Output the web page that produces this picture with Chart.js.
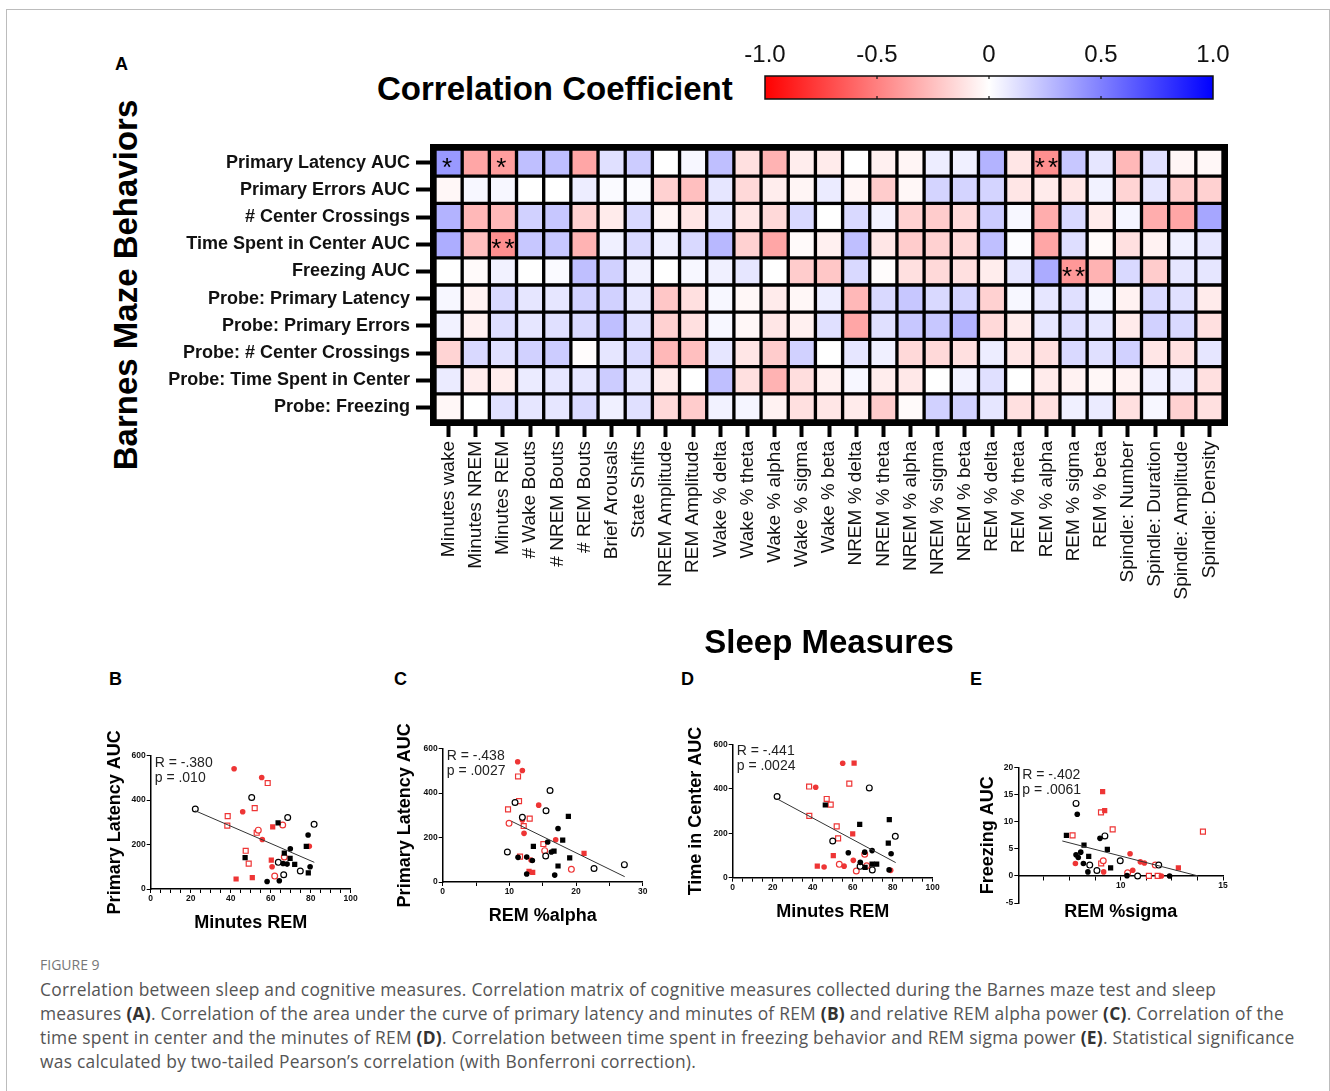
<!DOCTYPE html>
<html>
<head>
<meta charset="utf-8">
<title>Figure 9</title>
<script src="https://cdn.jsdelivr.net/npm/chart.js@4.4.1/dist/chart.umd.min.js"></script>
<style>
  html, body { margin: 0; padding: 0; background: #fff; }
  body { width: 1330px; height: 1091px; position: relative; overflow: hidden; font-family: 'Liberation Sans', Arial, sans-serif; color: #000; }
  .pane { position: absolute; }
  .letter { position: absolute; font-weight: bold; font-size: 18px; line-height: 18px; }
  #frame { position: absolute; left: 6px; top: 9px; width: 1322px; height: 1100px; border: 1px solid #bcbcbc; }
  #ccTitle { position: absolute; left: 377px; top: 73px; font-size: 33px; line-height: 32px; font-weight: bold; white-space: nowrap; }
  #yTitle { position: absolute; left: 125px; top: 285px; transform: translate(-50%, -50%) rotate(-90deg); font-size: 33px; line-height: 33px; font-weight: bold; white-space: nowrap; }
  .caption { position: absolute; left: 40px; font-family: 'Open Sans', sans-serif; white-space: nowrap; }
  #figNo { top: 957px; font-size: 14px; line-height: 16px; color: #777; }
  #capText { top: 977px; font-size: 17.4px; line-height: 24px; letter-spacing: 0.25px; color: #555; }
  #capText b { color: #333; }
</style>
</head>
<body>
<div id="frame"></div>

<div class="letter" style="left:115px;top:55px">A</div>
<div id="ccTitle">Correlation Coefficient</div>
<div id="yTitle">Barnes Maze Behaviors</div>
<div class="pane" style="left:735px;top:35px;width:510px;height:75px"><canvas id="cbar"></canvas></div>
<div class="pane" style="left:90px;top:120px;width:1150px;height:547px"><canvas id="heat"></canvas></div>

<div class="letter" style="left:109px;top:670px">B</div>
<div class="letter" style="left:394px;top:670px">C</div>
<div class="letter" style="left:681px;top:670px">D</div>
<div class="letter" style="left:970px;top:670px">E</div>
<div class="pane" style="left:95px;top:720px;width:270px;height:220px"><canvas id="scB"></canvas></div>
<div class="pane" style="left:385px;top:715px;width:270px;height:220px"><canvas id="scC"></canvas></div>
<div class="pane" style="left:675px;top:710px;width:270px;height:220px"><canvas id="scD"></canvas></div>
<div class="pane" style="left:965px;top:735px;width:270px;height:200px"><canvas id="scE"></canvas></div>

<div class="caption" id="figNo">FIGURE 9</div>
<div class="caption" id="capText">Correlation between sleep and cognitive measures. Correlation matrix of cognitive measures collected during the Barnes maze test and sleep<br>measures <b>(A)</b>. Correlation of the area under the curve of primary latency and minutes of REM <b>(B)</b> and relative REM alpha power <b>(C)</b>. Correlation of the<br>time spent in center and the minutes of REM <b>(D)</b>. Correlation between time spent in freezing behavior and REM sigma power <b>(E)</b>. Statistical significance<br>was calculated by two-tailed Pearson’s correlation (with Bonferroni correction).</div>

<script>
// ---- panel A: correlation matrix ----
const behaviours = ['Primary Latency AUC', 'Primary Errors AUC', '# Center Crossings', 'Time Spent in Center AUC',
  'Freezing AUC', 'Probe: Primary Latency', 'Probe: Primary Errors', 'Probe: # Center Crossings',
  'Probe: Time Spent in Center', 'Probe: Freezing'];

const sleepMeasures = ['Minutes wake', 'Minutes NREM', 'Minutes REM', '# Wake Bouts', '# NREM Bouts', '# REM Bouts',
  'Brief Arousals', 'State Shifts', 'NREM Amplitude', 'REM Amplitude', 'Wake % delta', 'Wake % theta',
  'Wake % alpha', 'Wake % sigma', 'Wake % beta', 'NREM % delta', 'NREM % theta', 'NREM % alpha',
  'NREM % sigma', 'NREM % beta', 'REM % delta', 'REM % theta', 'REM % alpha', 'REM % sigma', 'REM % beta',
  'Spindle: Number', 'Spindle: Duration', 'Spindle: Amplitude', 'Spindle: Density'];

// one row per behaviour, one value per sleep measure
const corrRows = [
  [0.40, -0.35, -0.38, 0.25, 0.25, -0.35, 0.12, 0.20, 0.00, 0.03, 0.25, -0.12, -0.30, -0.07, -0.08, 0.00, -0.06, -0.04, 0.07, 0.06, 0.30, -0.10, -0.438, 0.22, 0.10, -0.28, 0.12, -0.04, -0.03],
  [-0.03, 0.03, 0.03, 0.00, 0.00, 0.07, 0.02, 0.02, -0.18, -0.25, 0.10, -0.15, -0.07, -0.04, 0.08, -0.04, -0.20, -0.03, 0.17, 0.17, 0.17, -0.10, -0.08, -0.10, 0.05, -0.17, 0.10, -0.20, -0.18],
  [0.30, -0.28, -0.28, 0.18, 0.22, -0.18, -0.08, 0.15, -0.04, -0.10, 0.10, -0.10, -0.15, 0.15, 0.00, 0.15, 0.05, -0.18, -0.20, -0.15, 0.20, 0.03, -0.32, 0.15, -0.08, 0.04, -0.32, -0.35, 0.35],
  [0.32, -0.25, -0.441, 0.22, 0.22, -0.30, 0.06, 0.15, 0.06, 0.15, 0.28, -0.18, -0.35, -0.02, -0.06, 0.25, -0.10, -0.20, -0.18, -0.15, 0.25, 0.01, -0.35, 0.13, -0.02, -0.12, -0.05, 0.06, 0.10],
  [0.00, -0.02, 0.05, 0.00, 0.02, 0.25, 0.18, 0.06, 0.00, 0.03, 0.06, 0.10, 0.00, -0.20, -0.22, 0.15, -0.01, -0.12, -0.15, -0.12, -0.07, 0.10, 0.33, -0.402, -0.30, 0.15, -0.20, 0.10, 0.10],
  [0.03, -0.05, 0.15, 0.10, 0.10, 0.18, 0.18, 0.10, -0.22, -0.12, 0.03, -0.03, -0.08, -0.03, 0.07, -0.28, 0.15, 0.22, 0.15, 0.17, -0.18, 0.03, 0.10, 0.12, 0.04, -0.05, 0.15, 0.12, -0.08],
  [0.05, -0.06, 0.13, 0.10, 0.12, 0.15, 0.25, 0.12, -0.18, -0.12, 0.03, -0.03, -0.10, -0.06, 0.12, -0.35, 0.12, 0.22, 0.22, 0.30, -0.15, -0.08, 0.10, 0.13, 0.10, -0.08, 0.18, 0.15, -0.12],
  [-0.17, 0.15, 0.12, 0.18, 0.20, -0.01, 0.10, 0.15, -0.28, -0.25, 0.10, -0.10, -0.20, 0.18, 0.00, 0.10, 0.06, -0.15, -0.15, -0.12, 0.07, -0.10, -0.12, 0.15, 0.12, 0.18, -0.10, -0.12, 0.10],
  [0.08, -0.07, -0.07, 0.08, 0.10, 0.10, 0.20, 0.10, -0.08, 0.00, 0.25, -0.12, -0.30, -0.13, -0.06, 0.03, -0.07, -0.09, 0.00, 0.05, 0.12, 0.00, -0.08, -0.05, -0.03, -0.05, 0.06, 0.08, -0.12],
  [-0.03, 0.00, 0.12, 0.10, 0.10, 0.15, 0.06, 0.12, -0.15, -0.20, 0.05, 0.04, -0.05, -0.12, -0.10, -0.08, -0.20, -0.02, 0.18, 0.18, 0.10, -0.12, -0.12, 0.06, 0.08, -0.12, 0.03, -0.18, -0.12]
];

// [row, column, mark]
const sigMarks = [[0, 0, '*'], [0, 2, '*'], [3, 2, '**'], [0, 22, '**'], [4, 23, '**']];

const cbarTicks = [-1, -0.5, 0, 0.5, 1];

// ---- panels B-E: scatter points [x, y, group] ----
// groups: bc black filled circle, bo black open circle, bs black filled square,
//         rc red filled circle, ro red open circle, rs red filled square, rq red open square
const latencyVsRemMin = [
  [69.8, 181, 'bc'], [78.7, 243, 'bc'], [66.2, 115, 'bc'], [68.2, 112, 'bc'], [79.7, 100, 'bc'], [58.2, 34, 'bc'], [64.3, 37, 'bc'],
  [22.3, 360, 'bo'], [50.5, 412, 'bo'], [68.5, 322, 'bo'], [81.7, 291, 'bo'], [63.8, 120, 'bo'], [74.8, 81, 'bo'], [66.5, 64, 'bo'],
  [63.7, 298, 'bs'], [77.8, 192, 'bs'], [66.8, 162, 'bs'], [47.2, 141, 'bs'], [69.7, 138, 'bs'], [72, 111, 'bs'], [78.8, 73, 'bs'],
  [41.7, 541, 'rc'], [55.5, 502, 'rc'], [46, 348, 'rc'], [55.8, 223, 'rc'], [79.3, 192, 'rc'], [60.7, 100, 'rc'],
  [66, 288, 'ro'], [53.8, 265, 'ro'], [66.8, 144, 'ro'], [62, 58, 'ro'],
  [61, 280, 'rs'], [60.3, 130, 'rs'], [42.7, 45, 'rs'], [50.8, 51, 'rs'],
  [58.5, 477, 'rq'], [38.5, 328, 'rq'], [52, 364, 'rq'], [38.3, 285, 'rq'], [53, 253, 'rq'], [47.5, 172, 'rq'], [49, 114, 'rq']
];
const latencyVsRemAlpha = [
  [17.3, 241, 'bc'], [15.75, 180, 'bc'], [16.3, 135, 'bc'], [11.3, 111, 'bc'], [12.6, 112, 'bc'], [13.45, 97, 'bc'], [12.6, 36, 'bc'], [16.8, 31, 'bc'],
  [16.1, 412, 'bo'], [10.85, 358, 'bo'], [15.5, 321, 'bo'], [11.95, 291, 'bo'], [9.7, 135, 'bo'], [15.45, 117, 'bo'], [22.7, 61, 'bo'], [27.25, 78, 'bo'],
  [18.85, 295, 'bs'], [18, 189, 'bs'], [13.6, 160, 'bs'], [16.7, 139, 'bs'], [19.05, 109, 'bs'], [17.3, 72, 'bs'],
  [11.25, 541, 'rc'], [11.95, 502, 'rc'], [14.4, 346, 'rc'], [11.95, 279, 'rc'], [12.2, 219, 'rc'], [16.95, 190, 'rc'], [13.25, 99, 'rc'],
  [9.95, 264, 'ro'], [15.3, 141, 'ro'], [19.3, 57, 'ro'],
  [21.2, 129, 'rs'], [12.95, 48, 'rs'], [13.5, 43, 'rs'],
  [11.3, 475, 'rq'], [11.45, 364, 'rq'], [9.8, 327, 'rq'], [13.05, 285, 'rq'], [12.15, 252, 'rq'], [15.1, 171, 'rq'], [11.6, 114, 'rq']
];
const centerVsRemMin = [
  [69.7, 122, 'bc'], [57.8, 112, 'bc'], [66, 115, 'bc'], [79.2, 108, 'bc'], [63.8, 69, 'bc'], [78.2, 35, 'bc'],
  [68.3, 404, 'bo'], [22.2, 365, 'bo'], [81.3, 186, 'bo'], [50, 165, 'bo'], [63.7, 51, 'bo'], [69.8, 35, 'bo'],
  [46.3, 327, 'bs'], [78.3, 261, 'bs'], [63.5, 240, 'bs'], [77.8, 155, 'bs'], [69.7, 61, 'bs'], [72, 61, 'bs'], [66.2, 46, 'bs'],
  [55, 515, 'rc'], [41.5, 407, 'rc'], [60.3, 78, 'rc'], [45.7, 48, 'rc'], [55.7, 52, 'rc'], [79, 33, 'rc'],
  [66, 106, 'ro'], [53.3, 60, 'ro'], [67, 54, 'ro'], [61.8, 30, 'ro'],
  [60.7, 515, 'rs'], [60, 197, 'rs'], [50.3, 99, 'rs'], [42.3, 52, 'rs'],
  [58.3, 423, 'rq'], [38.2, 410, 'rq'], [47, 354, 'rq'], [49, 329, 'rq'], [38.3, 278, 'rq'], [52, 231, 'rq'], [52.7, 177, 'rq']
];
const freezingVsRemSigma = [
  [7.88, 11.4, 'bc'], [8.99, 6.95, 'bc'], [8.05, 4.4, 'bc'], [7.82, 3.9, 'bc'], [7.93, 3.4, 'bc'], [8.18, 2.3, 'bc'], [8.4, 0.75, 'bc'], [10.31, 0.05, 'bc'], [12.39, 0, 'bc'],
  [7.82, 13.4, 'bo'], [9.23, 7.4, 'bo'], [9.98, 2.8, 'bo'], [8.49, 2.0, 'bo'], [11.86, 2.0, 'bo'], [8.84, 1.0, 'bo'], [10.83, 0, 'bo'],
  [7.35, 7.5, 'bs'], [8.21, 5.7, 'bs'], [9.35, 4.9, 'bs'], [8.44, 3.6, 'bs'], [9.51, 1.5, 'bs'],
  [10.46, 4.1, 'rc'], [10.96, 2.6, 'rc'], [11.16, 2.4, 'rc'], [7.79, 2.3, 'rc'], [10.59, 1.05, 'rc'], [9.17, 0.75, 'rc'], [11.99, 0, 'rc'],
  [9.15, 2.8, 'ro'], [11.69, 2.0, 'ro'], [10.34, 0.6, 'ro'],
  [9.12, 15.6, 'rs'], [9.22, 12.06, 'rs'], [12.82, 1.5, 'rs'],
  [9.04, 11.75, 'rq'], [9.61, 8.6, 'rq'], [14.02, 8.2, 'rq'], [7.65, 7.5, 'rq'], [9.05, 2.3, 'rq'], [11.38, 0, 'rq'], [11.81, 0, 'rq']
];

// regression lines, end points as drawn
const fitB = [[22.3, 352], [81.8, 120]];
const fitC = [[10.35, 273], [27.3, 24]];
const fitD = [[22.3, 354], [81.5, 68]];
const fitE = [[7.15, 6.46], [13.78, 0]];

const statsB = ['R = -.380', 'p = .010'];
const statsC = ['R = -.438', 'p = .0027'];
const statsD = ['R = -.441', 'p = .0024'];
const statsE = ['R = -.402', 'p = .0061'];

Chart.defaults.font.family = "'Liberation Sans', Arial, sans-serif";
Chart.defaults.color = '#000';
Chart.defaults.animation = false;
Chart.defaults.maintainAspectRatio = false;
Chart.defaults.plugins.legend.display = false;
Chart.defaults.plugins.tooltip.enabled = false;

function corrColor(v) {
  const t = Math.min(1, Math.abs(v));
  const c = Math.round(255 * (1 - t));
  return v < 0 ? `rgb(255,${c},${c})` : `rgb(${c},${c},255)`;
}

// black frame behind the cells, stars on top
const heatFrame = {
  id: 'heatFrame',
  beforeDatasetsDraw(chart) {
    const {ctx, chartArea: a} = chart;
    ctx.save();
    ctx.fillStyle = '#000';
    ctx.fillRect(a.left - 5, a.top - 5, a.width + 10, a.height + 10);
    ctx.restore();
  },
  afterDatasetsDraw(chart) {
    const {ctx, scales: {x, y}} = chart;
    ctx.save();
    ctx.fillStyle = '#000';
    ctx.font = "26px 'Liberation Sans', Arial";
    ctx.textAlign = 'center';
    ctx.textBaseline = 'middle';
    ctx.letterSpacing = '3px';
    sigMarks.forEach(([r, c, mark]) => {
      ctx.fillText(mark, x.getPixelForValue(c) + (mark.length > 1 ? 1.5 : 0), y.getPixelForValue(r + 0.5) + 6);
    });
    ctx.restore();
  }
};

new Chart(document.getElementById('heat'), {
  type: 'bar',
  data: {
    labels: sleepMeasures,
    datasets: behaviours.map((name, r) => ({
      label: name,
      data: corrRows[r].map((v, c) => ({x: sleepMeasures[c], y: [r, r + 1], v})),
      backgroundColor: ctx => corrColor(ctx.raw.v),
      borderColor: '#000',
      borderWidth: 2,
      borderSkipped: false,
      grouped: false,
      barPercentage: 1,
      categoryPercentage: 1
    }))
  },
  options: {
    layout: {padding: {top: 29, right: 17, left: 0, bottom: 0}},
    scales: {
      x: {
        type: 'category',
        afterFit: s => { s.height = 246; },
        border: {display: false},
        grid: {display: true, offset: false, drawOnChartArea: false, tickLength: 16, tickWidth: 4, tickColor: '#000'},
        ticks: {autoSkip: false, minRotation: 90, maxRotation: 90, padding: 4, color: '#111', font: {size: 19}},
        title: {display: true, text: 'Sleep Measures', color: '#000', font: {size: 33, weight: 'bold'}, padding: {top: 0, bottom: 3}}
      },
      y: {
        type: 'linear',
        min: 0,
        max: behaviours.length,
        reverse: true,
        afterFit: s => { s.width = 345; },
        afterBuildTicks: s => { s.ticks = behaviours.map((b, i) => ({value: i + 0.5})); },
        border: {display: false},
        grid: {display: true, drawOnChartArea: false, tickLength: 19, tickWidth: 4, tickColor: '#000'},
        ticks: {padding: 6, color: '#111', font: {size: 18, weight: 'bold'}, callback: v => behaviours[Math.floor(v)]}
      }
    }
  },
  plugins: [heatFrame]
});

// colour bar
const cbarPaint = {
  id: 'cbarPaint',
  beforeDatasetsDraw(chart) {
    const {ctx, chartArea: a, scales: {x}} = chart;
    const g = ctx.createLinearGradient(a.left, 0, a.right, 0);
    cbarTicks.forEach(v => g.addColorStop((v + 1) / 2, corrColor(v)));
    ctx.save();
    ctx.fillStyle = g;
    ctx.fillRect(a.left, a.top, a.width, a.height);
    ctx.strokeStyle = '#111';
    ctx.lineWidth = 1.5;
    ctx.strokeRect(a.left, a.top, a.width, a.height);
    ctx.lineWidth = 1.2;
    cbarTicks.slice(1, -1).forEach(v => {
      const px = x.getPixelForValue(v);
      ctx.beginPath();
      ctx.moveTo(px, a.top); ctx.lineTo(px, a.top + 3);
      ctx.moveTo(px, a.bottom); ctx.lineTo(px, a.bottom - 3);
      ctx.stroke();
    });
    ctx.restore();
  }
};

new Chart(document.getElementById('cbar'), {
  type: 'scatter',
  data: {datasets: []},
  options: {
    layout: {padding: {left: 30, right: 32, top: 0, bottom: 11}},
    scales: {
      x: {
        type: 'linear', position: 'top', min: -1, max: 1,
        afterFit: s => { s.height = 41; },
        afterBuildTicks: s => { s.ticks = cbarTicks.map(v => ({value: v})); },
        border: {display: false},
        grid: {display: false},
        ticks: {padding: -2, color: '#111', font: {size: 24}, callback: v => v === 0 ? '0' : v.toFixed(1)}
      },
      y: {display: false, min: 0, max: 1}
    }
  },
  plugins: [cbarPaint]
});

// ---- scatter panels ----
const groupOrder = ['bc', 'bo', 'bs', 'rc', 'ro', 'rs', 'rq'];
const RED = '#ee3535';
const markerStyles = {
  bc: {pointStyle: 'circle', pointRadius: 2.8, backgroundColor: '#000', borderColor: '#000', borderWidth: 0},
  bo: {pointStyle: 'circle', pointRadius: 2.9, backgroundColor: '#fff', borderColor: '#000', borderWidth: 1.2},
  bs: {pointStyle: 'rect', pointRadius: 3.7, backgroundColor: '#000', borderColor: '#000', borderWidth: 0},
  rc: {pointStyle: 'circle', pointRadius: 2.8, backgroundColor: RED, borderColor: RED, borderWidth: 0},
  ro: {pointStyle: 'circle', pointRadius: 2.9, backgroundColor: '#fff', borderColor: RED, borderWidth: 1.2},
  rs: {pointStyle: 'rect', pointRadius: 3.7, backgroundColor: RED, borderColor: RED, borderWidth: 0},
  rq: {pointStyle: 'rect', pointRadius: 3.5, backgroundColor: '#fff', borderColor: RED, borderWidth: 1.2}
};

const statText = {
  id: 'statText',
  afterDraw(chart, args, opts) {
    const {ctx, chartArea: a} = chart;
    ctx.save();
    ctx.fillStyle = '#222';
    ctx.font = "14px 'Liberation Sans', Arial";
    ctx.textBaseline = 'middle';
    opts.lines.forEach((t, i) => ctx.fillText(t, a.left + 4, a.top + 7 + i * 15));
    ctx.restore();
  }
};

const hasLabel = (list, v) => list.some(l => Math.abs(l - v) < 1e-6);

function makeScatter(id, points, fit, stats, cfg) {
  const datasets = groupOrder.map(g => Object.assign({
    data: points.filter(p => p[2] === g).map(p => ({x: p[0], y: p[1]}))
  }, markerStyles[g]));
  datasets.unshift({
    type: 'line',
    data: fit.map(p => ({x: p[0], y: p[1]})),
    borderColor: '#333', borderWidth: 1, pointRadius: 0
  });
  new Chart(document.getElementById(id), {
    type: 'scatter',
    data: {datasets},
    options: {
      layout: {padding: cfg.padding},
      scales: {
        x: {
          type: 'linear', min: cfg.x.min, max: cfg.x.max,
          position: cfg.x.at === undefined ? 'bottom' : {y: cfg.x.at},
          afterFit: s => { if (cfg.x.height) s.height = cfg.x.height; },
          border: {display: true, color: '#000', width: 1.5},
          grid: {drawOnChartArea: false, tickLength: 4, tickWidth: 1, tickColor: '#000'},
          ticks: {stepSize: cfg.x.step, autoSkip: false, maxRotation: 0, padding: 1, color: '#111',
            font: {size: 8.5, weight: 'bold'}, callback: v => hasLabel(cfg.x.labels, v) ? v : ''},
          title: {display: true, text: cfg.x.title, color: '#000', font: {size: 18, weight: 'bold'}, padding: cfg.x.pad}
        },
        y: {
          type: 'linear', min: cfg.y.min, max: cfg.y.max,
          afterFit: s => { s.width = cfg.y.width; },
          border: {display: true, color: '#000', width: 1.5},
          grid: {drawOnChartArea: false, tickLength: 4, tickWidth: 1, tickColor: '#000'},
          ticks: {stepSize: cfg.y.step, autoSkip: false, padding: 1, color: '#111', font: {size: 8.5, weight: 'bold'}},
          title: {display: true, text: cfg.y.title, color: '#000', font: {size: 18, weight: 'bold'}, padding: {top: cfg.y.pad, bottom: 0}}
        }
      },
      plugins: {statText: {lines: stats}}
    },
    plugins: [statText]
  });
}

makeScatter('scB', latencyVsRemMin, fitB, statsB, {
  padding: {top: 35.7, right: 14.3, bottom: 0, left: 0},
  x: {min: 0, max: 100, step: 5, labels: [0, 20, 40, 60, 80, 100], title: 'Minutes REM', pad: {top: 0, bottom: 6}, height: 51},
  y: {min: 0, max: 600, step: 200, title: 'Primary Latency AUC', pad: 9, width: 55.7}
});
makeScatter('scC', latencyVsRemAlpha, fitC, statsC, {
  padding: {top: 33.7, right: 12.3, bottom: 0, left: 0},
  x: {min: 0, max: 30, step: 5, labels: [0, 10, 20, 30], title: 'REM %alpha', pad: {top: 0, bottom: 8}, height: 53},
  y: {min: 0, max: 600, step: 200, title: 'Primary Latency AUC', pad: 9, width: 57.7}
});
makeScatter('scD', centerVsRemMin, fitD, statsD, {
  padding: {top: 34.3, right: 12.3, bottom: 0, left: 0},
  x: {min: 0, max: 100, step: 5, labels: [0, 20, 40, 60, 80, 100], title: 'Minutes REM', pad: {top: 0, bottom: 7}, height: 52.3},
  y: {min: 0, max: 600, step: 200, title: 'Time in Center AUC', pad: 10, width: 57.7}
});
makeScatter('scE', freezingVsRemSigma, fitE, statsE, {
  padding: {top: 32.7, right: 12, bottom: 32, left: 0},
  x: {min: 5, max: 15, step: 1.25, labels: [10, 15], title: 'REM %sigma', at: 0, pad: {top: 9, bottom: 0}},
  y: {min: -5, max: 20, step: 5, title: 'Freezing AUC', pad: 12, width: 53.3}
});
</script>
</body>
</html>
